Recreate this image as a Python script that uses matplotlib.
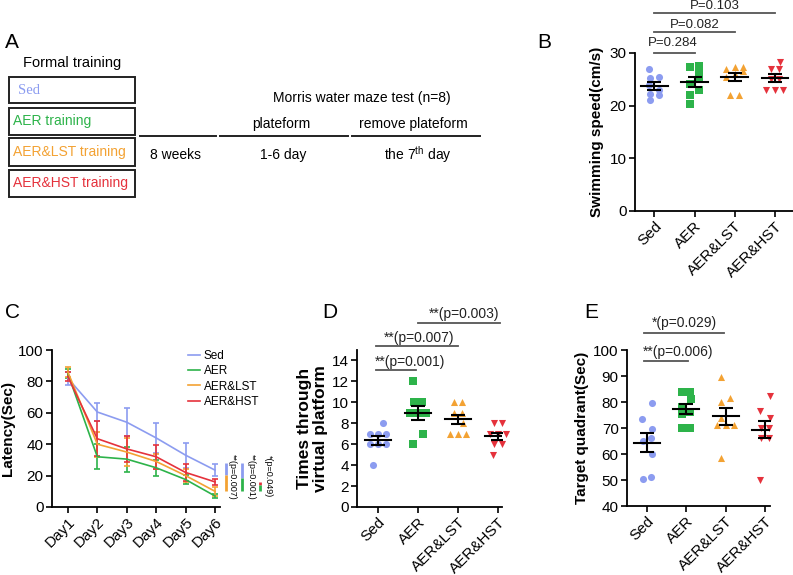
import numpy as np
import matplotlib
matplotlib.use("Agg")
import matplotlib.pyplot as plt
from matplotlib.patches import Rectangle
from matplotlib.lines import Line2D

plt.rcParams['font.family'] = ['Liberation Sans', 'DejaVu Sans']
plt.rcParams['mathtext.fontset'] = 'custom'
plt.rcParams['mathtext.rm'] = 'Liberation Sans'

W, H = 793, 575

groups = ['Sed', 'AER', 'AER&LST', 'AER&HST']
colors = ['#8c9cf0', '#2db34a', '#f3a233', '#e5323c']
markers = ['o', 's', '^', 'v']

# B: swimming speed (cm/s)
speed_sed = [27.0, 25.5, 25.3, 23.9, 23.0, 22.3, 22.0, 21.0]
speed_aer = [27.6, 27.3, 26.2, 25.1, 24.2, 23.0, 22.0, 20.4]
speed_lst = [27.3, 27.3, 27.0, 26.5, 26.0, 25.5, 22.0, 22.0]
speed_hst = [28.3, 27.0, 27.0, 25.1, 25.1, 23.0, 23.0, 23.0]
speed_p = ['P=0.284', 'P=0.082', 'P=0.103']

# C: latency (sec), mean and error per day
days = ['Day1', 'Day2', 'Day3', 'Day4', 'Day5', 'Day6']
lat_sed = [82, 60.5, 54, 44, 33, 23.5]
lat_aer = [85, 32, 30.5, 25, 17.5, 7]
lat_lst = [86, 40, 35, 29, 20, 10]
lat_hst = [83, 43.5, 37, 32, 22, 16]
err_sed = [4, 6, 9, 9.5, 8, 4]
err_aer = [3, 8, 8, 5, 3, 1.5]
err_lst = [3, 8, 9, 5, 4, 3]
err_hst = [3, 11, 8.5, 7.5, 5.5, 2]
lat_p = ['**(p=0.007)', '**(p=0.001)', '*(p=0.049)']

# D: times through virtual platform
times_sed = [8, 7, 7, 7, 6, 6, 6, 4]
times_aer = [12, 10, 10, 9, 9, 9, 7, 6]
times_lst = [10, 10, 9, 9, 8, 7, 7, 7]
times_hst = [8, 8, 7, 7, 7, 6, 6, 5]
times_p = ['**(p=0.001)', '**(p=0.007)', '**(p=0.003)']

# E: target quadrant (sec)
quad_sed = [79.5, 73.5, 69.5, 66, 65, 60, 51, 50.5]
quad_aer = [84, 84, 81, 78, 76, 75.5, 70, 70]
quad_lst = [89.5, 81.5, 80, 74, 71, 71, 71, 58.5]
quad_hst = [82.5, 76.5, 74, 70, 70, 66, 66, 50]
quad_p = ['**(p=0.006)', '*(p=0.029)']


def px_axes(fig, l, t, r, b):
    return fig.add_axes([l / W, 1 - b / H, (r - l) / W, (b - t) / H])


def swarm(vals, tol, step=0.21):
    # spread points of similar value side by side
    vals = np.asarray(vals, float)
    order = np.argsort(vals)
    offs = np.zeros(len(vals))
    rows = [[order[0]]]
    for i in order[1:]:
        if vals[i] - vals[rows[-1][0]] > tol:
            rows.append([i])
        else:
            rows[-1].append(i)
    for r, grp in enumerate(rows):
        n = len(grp)
        shift = 0 if n > 1 else (0.12 if r % 2 else -0.12)
        for k, j in enumerate(grp):
            offs[j] = (k - (n - 1) / 2) * step + shift
    return offs


def style(ax):
    for s in ['top', 'right']:
        ax.spines[s].set_visible(False)
    for s in ['left', 'bottom']:
        ax.spines[s].set_linewidth(1.3)
    ax.tick_params(width=1.2, length=4, labelsize=11, pad=2)


def scatter_panel(ax, data, tol):
    for i, vals in enumerate(data):
        x = i + swarm(vals, tol)
        ax.scatter(x, vals, s=26, marker=markers[i], color=colors[i], zorder=2, linewidths=0,
                   clip_on=False)
        m = np.mean(vals)
        se = np.std(vals, ddof=1) / np.sqrt(len(vals))
        ax.plot([i - 0.33, i + 0.33], [m, m], color='black', lw=1.5, zorder=3)
        ax.errorbar(i, m, yerr=se, color='black', capsize=5, elinewidth=1.5, capthick=1.5, zorder=3)
    ax.set_xticks(range(4))
    ax.set_xticklabels(groups, rotation=45, ha='right', rotation_mode='anchor')
    style(ax)


def sig(ax, x0, x1, y, txt, tx, ty, fs=10):
    ax.plot([x0, x1], [y, y], color='#555555', lw=1.3, clip_on=False)
    ax.text(tx, ty, txt, ha='center', va='center', fontsize=fs, color='#222222')


fig = plt.figure(figsize=(W / 100, H / 100), dpi=100)

# panel A as drawing in pixel coordinates
a = fig.add_axes([0, 0, 1, 1])
a.set_xlim(0, W)
a.set_ylim(H, 0)
a.axis('off')
a.text(5, 43, 'A', fontsize=15, va='center')
a.text(72, 63, 'Formal training', fontsize=10.5, ha='center', va='center')
boxes = [(77, 103), (108, 135), (138, 166), (170, 197)]
box_txt = ['Sed', 'AER training', 'AER&LST training', 'AER&HST training']
for (t, b), txt, c in zip(boxes, box_txt, colors):
    a.add_patch(Rectangle((9, t), 126, b - t, fill=False, ec='#222222', lw=1.4))
    if txt == 'Sed':
        a.text(18, (t + b) / 2, txt, color=c, fontsize=10.5, va='center', family='Liberation Serif')
    else:
        a.text(13, (t + b) / 2, txt, color=c, fontsize=10, va='center')
for x0, x1 in [(140, 216), (220, 348), (352, 480)]:
    a.plot([x0, x1], [136, 136], color='#222222', lw=1.4)
a.text(362, 98, 'Morris water maze test (n=8)', fontsize=10, ha='center', va='center')
a.text(281, 124, 'plateform', fontsize=10, ha='center', va='center')
a.text(413, 124, 'remove plateform', fontsize=10, ha='center', va='center')
a.text(176, 155, '8 weeks', fontsize=10, ha='center', va='center')
a.text(283, 155, '1-6 day', fontsize=10, ha='center', va='center')
a.text(418, 155, r'the 7$^{\mathrm{th}}$ day', fontsize=10, ha='center', va='center')
a.text(537, 43, 'B', fontsize=15, va='center')
a.text(5, 312, 'C', fontsize=15, va='center')
a.text(322, 312, 'D', fontsize=15, va='center')
a.text(584, 313, 'E', fontsize=15, va='center')

# B
axb = px_axes(fig, 635, 53, 793, 211)
scatter_panel(axb, [speed_sed, speed_aer, speed_lst, speed_hst], 1.1)
axb.set_xlim(-0.48, 3.45)
axb.set_ylim(0, 30)
axb.set_yticks([0, 10, 20, 30])
axb.set_ylabel('Swimming speed(cm/s)', fontsize=11, fontweight='bold', labelpad=4)
sig(axb, 0, 1, 30.0, speed_p[0], 0.45, 31.9, fs=9.5)
sig(axb, 0, 2, 34.0, speed_p[1], 1.0, 35.4, fs=9.5)
sig(axb, 0, 3, 37.6, speed_p[2], 1.5, 39.0, fs=9.5)

# C
axc = px_axes(fig, 52, 350, 220, 507)
lat = [lat_sed, lat_aer, lat_lst, lat_hst]
err = [err_sed, err_aer, err_lst, err_hst]
xd = np.arange(len(days))
for i in range(4):
    axc.errorbar(xd, lat[i], yerr=err[i], color=colors[i], lw=1.2, elinewidth=1.2,
                 capsize=2, capthick=1.2)
axc.set_xlim(-0.54, 5.17)
axc.set_ylim(0, 100)
axc.set_yticks(range(0, 101, 20))
axc.set_xticks(xd)
axc.set_xticklabels(days, rotation=45, ha='right', rotation_mode='anchor')
style(axc)
axc.set_ylabel('Latency(Sec)', fontsize=11, fontweight='bold', labelpad=2)
handles = [Line2D([], [], color=c, lw=1.2) for c in colors]
axc.legend(handles, groups, loc='upper left', bbox_to_anchor=(0.78, 1.03), frameon=False,
           fontsize=8.5, handlelength=1.0, handletextpad=0.35, labelspacing=0.28, borderaxespad=0)
# significance bars to the right of day 6
bars = [(5.37, colors[0], colors[2], 20.5), (5.92, colors[0], colors[1], 18.5),
        (6.53, colors[3], colors[1], 14)]
tops = [28, 28, 16]
for (bx, c_top, c_bot, mid), top in zip(bars, tops):
    axc.plot([bx, bx], [mid, top], color=c_top, lw=2, clip_on=False, solid_capstyle='butt')
    axc.plot([bx, bx], [10.5, mid], color=c_bot, lw=2, clip_on=False, solid_capstyle='butt')
for tx, txt in zip([5.6, 6.24, 6.82], lat_p):
    axc.text(tx, 19.5, txt, rotation=-90, fontsize=6.5, ha='center', va='center', clip_on=False)

# D
axd = px_axes(fig, 357, 350, 502, 507)
scatter_panel(axd, [times_sed, times_aer, times_lst, times_hst], 0.5)
axd.set_xlim(-0.525, 3.1)
axd.set_ylim(0, 15)
axd.set_yticks(range(0, 15, 2))
axd.set_ylabel('Times through\nvirtual platform', fontsize=12.5, fontweight='bold', labelpad=3,
               linespacing=1.0)
sig(axd, -0.05, 0.95, 13.1, times_p[0], 0.8, 13.9)
sig(axd, -0.05, 2.0, 15.35, times_p[1], 1.02, 16.1)
sig(axd, 1.0, 3.05, 17.56, times_p[2], 2.14, 18.4)

# E
axe = px_axes(fig, 627, 350, 770, 506)
scatter_panel(axe, [quad_sed, quad_aer, quad_lst, quad_hst], 2.3)
axe.set_xlim(-0.51, 3.13)
axe.set_ylim(40, 100)
axe.set_yticks(range(40, 101, 10))
axe.set_ylabel('Target quadrant(Sec)', fontsize=11, fontweight='bold', labelpad=3)
sig(axe, -0.08, 1.05, 95.9, quad_p[0], 0.79, 99.1)
sig(axe, -0.08, 1.95, 106.6, quad_p[1], 0.95, 110.2)

fig.savefig('out.png', dpi=100)
